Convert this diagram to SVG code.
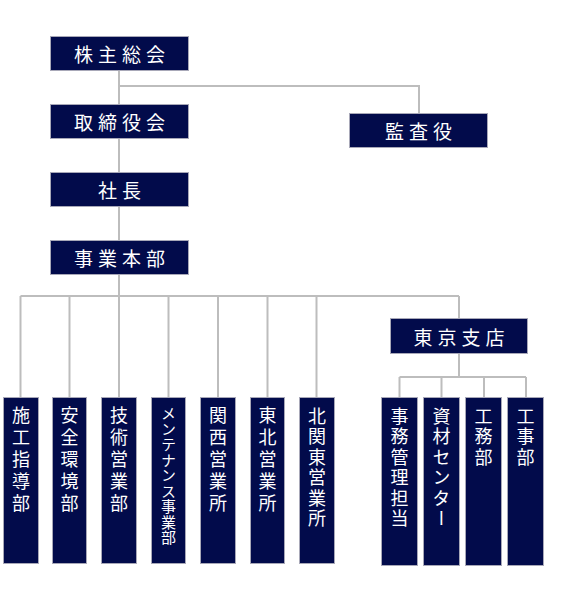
<svg xmlns="http://www.w3.org/2000/svg" width="580" height="600" viewBox="0 0 580 600">
<style>
.box{fill:#020b4b;stroke:#a8a8b8;stroke-width:1}
.lbl{fill:#fff;font-family:"Noto Sans CJK JP","Noto Sans",sans-serif;font-size:19px;letter-spacing:5px;text-anchor:middle;dominant-baseline:central}
.v{fill:#fff;font-family:"Noto Sans CJK JP","Noto Sans",sans-serif;font-size:18px;letter-spacing:4px;writing-mode:vertical-rl;text-orientation:upright}
.v6{letter-spacing:2.5px}
.vs{font-size:15px;letter-spacing:0.5px}
.ln{stroke:#bdbdbd;stroke-width:2;fill:none}
</style>
<rect width="580" height="600" fill="#fff"/>
<g id="connectors">
<path class="ln" d="M119 70V240M119 86H419V113M119 275V296M20.5 296H459M20.5 296V397M69.5 296V397M119 296V397M168.5 296V397M218 296V397M267.5 296V397M316.5 296V397M459 296V318M459 354V377M399.5 377H526M399.5 377V397M441.5 377V397M484 377V397M526 377V397"/>
</g>
<g id="n-kabunushi"><rect class="box" x="50.5" y="36.5" width="138" height="34"/><text class="lbl" x="122" y="53.5">株主総会</text></g>
<g id="n-torishimari"><rect class="box" x="50.5" y="104.5" width="138" height="34"/><text class="lbl" x="122" y="121.5">取締役会</text></g>
<g id="n-kansa"><rect class="box" x="349.5" y="113.5" width="138" height="34"/><text class="lbl" x="421" y="130.5">監査役</text></g>
<g id="n-shacho"><rect class="box" x="50.5" y="172.5" width="138" height="34"/><text class="lbl" x="122" y="189.5">社長</text></g>
<g id="n-jigyo"><rect class="box" x="50.5" y="240.5" width="138" height="34"/><text class="lbl" x="122" y="257.5">事業本部</text></g>
<g id="n-tokyo"><rect class="box" x="390.5" y="318.5" width="137" height="35"/><text class="lbl" x="461.5" y="336">東京支店</text></g>
<g id="n-seko"><rect class="box" x="3.5" y="397.5" width="35" height="166"/><text class="v" x="21" y="406">施工指導部</text></g>
<g id="n-anzen"><rect class="box" x="52.5" y="397.5" width="34" height="166"/><text class="v" x="69.5" y="406">安全環境部</text></g>
<g id="n-gijutsu"><rect class="box" x="101.5" y="397.5" width="35" height="166"/><text class="v" x="119" y="406">技術営業部</text></g>
<g id="n-mainte"><rect class="box" x="151.5" y="397.5" width="34" height="166"/><text class="v vs" x="168.5" y="406">メンテナンス事業部</text></g>
<g id="n-kansai"><rect class="box" x="200.5" y="397.5" width="35" height="166"/><text class="v" x="218" y="406">関西営業所</text></g>
<g id="n-tohoku"><rect class="box" x="250.5" y="397.5" width="34" height="166"/><text class="v" x="267.5" y="406">東北営業所</text></g>
<g id="n-kitakanto"><rect class="box" x="299.5" y="397.5" width="35" height="166"/><text class="v v6" x="317" y="407">北関東営業所</text></g>
<g id="n-jimu"><rect class="box" x="381.5" y="397.5" width="36" height="168"/><text class="v v6" x="399.5" y="407">事務管理担当</text></g>
<g id="n-shizai"><rect class="box" x="423.5" y="397.5" width="36" height="168"/><text class="v v6" x="441.5" y="407">資材センター</text></g>
<g id="n-komu"><rect class="box" x="465.5" y="397.5" width="36" height="168"/><text class="v v6" x="483.5" y="407">工務部</text></g>
<g id="n-koji"><rect class="box" x="507.5" y="397.5" width="36" height="168"/><text class="v v6" x="525.5" y="407">工事部</text></g>
</svg>
